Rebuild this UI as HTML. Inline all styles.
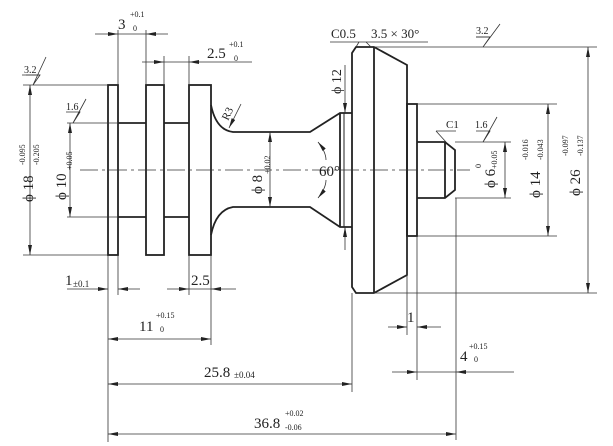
<!DOCTYPE html>
<html><head><style>
html,body{margin:0;padding:0;background:#fff;}
svg{display:block;font-family:"Liberation Serif",serif;}
</style></head><body>
<svg width="613" height="446" viewBox="0 0 613 446" xmlns="http://www.w3.org/2000/svg">
<defs>
<marker id="a" viewBox="0 0 10 4" refX="10" refY="2" markerWidth="10" markerHeight="4" orient="auto-start-reverse" markerUnits="userSpaceOnUse"><path d="M0,0 L10,2 L0,4z" fill="#222"/></marker>
</defs>
<g stroke="#222" fill="none" stroke-width="1.8">
<rect x="108" y="85" width="10" height="170"/>
<rect x="146" y="85" width="18" height="170"/>
<rect x="189" y="85" width="22" height="170"/>
<line x1="118" y1="123" x2="146" y2="123"/><line x1="118" y1="217" x2="146" y2="217"/>
<line x1="164" y1="123" x2="189" y2="123"/><line x1="164" y1="217" x2="189" y2="217"/>
<path d="M211,105 Q216,130 233,132 L310,132 L340,113 L352,113"/>
<path d="M211,235 Q216,210 233,207 L310,207 L340,227 L352,227"/>
<line x1="340" y1="113" x2="340" y2="227"/>
<line x1="344" y1="113" x2="344" y2="227" stroke-width="1"/>
<path d="M352,53 L356,47 L374,47 L407,65 L407,275 L374,293 L356,293 L352,287 Z"/>
<line x1="374" y1="47" x2="374" y2="293"/>
<rect x="407" y="104" width="10" height="132"/>
<path d="M417,142 L445,142 L455,150 L455,190 L445,198 L417,198"/>
<line x1="445" y1="142" x2="445" y2="198"/>
</g>
<line x1="80" y1="170" x2="470" y2="170" stroke="#333" stroke-width="0.8" stroke-dasharray="18,4,3,4"/>
<g stroke="#333" stroke-width="0.8" fill="none">
<line x1="23" y1="85" x2="108" y2="85"/><line x1="23" y1="255" x2="108" y2="255"/>
<line x1="67" y1="123" x2="118" y2="123"/><line x1="67" y1="217" x2="118" y2="217"/>
<line x1="118" y1="30" x2="118" y2="85"/><line x1="146" y1="30" x2="146" y2="85"/>
<line x1="164" y1="56" x2="164" y2="85"/><line x1="189" y1="56" x2="189" y2="85"/>
<line x1="108" y1="255" x2="108" y2="442"/><line x1="118" y1="255" x2="118" y2="295"/>
<line x1="189" y1="255" x2="189" y2="295"/><line x1="211" y1="255" x2="211" y2="345"/>
<line x1="352" y1="293" x2="352" y2="392"/>
<line x1="407" y1="236" x2="407" y2="335"/><line x1="417" y1="236" x2="417" y2="380"/>
<line x1="456" y1="198" x2="456" y2="440"/>
<line x1="374" y1="47" x2="597" y2="47"/><line x1="374" y1="293" x2="597" y2="293"/>
<line x1="417" y1="104" x2="557" y2="104"/><line x1="417" y1="236" x2="557" y2="236"/>
<line x1="455" y1="142" x2="511" y2="142"/><line x1="455" y1="198" x2="511" y2="198"/>
<line x1="30" y1="85" x2="30" y2="255" marker-start="url(#a)" marker-end="url(#a)"/>
<line x1="70" y1="123" x2="70" y2="217" marker-start="url(#a)" marker-end="url(#a)"/>
<line x1="270" y1="132" x2="270" y2="207" marker-start="url(#a)" marker-end="url(#a)"/>
<line x1="505" y1="142" x2="505" y2="198" marker-start="url(#a)" marker-end="url(#a)"/>
<line x1="548" y1="104" x2="548" y2="236" marker-start="url(#a)" marker-end="url(#a)"/>
<line x1="588" y1="47" x2="588" y2="293" marker-start="url(#a)" marker-end="url(#a)"/>
<line x1="95" y1="34" x2="118" y2="34" marker-end="url(#a)"/><line x1="168" y1="34" x2="146" y2="34" marker-end="url(#a)"/><line x1="118" y1="34" x2="146" y2="34"/>
<line x1="142" y1="62" x2="164" y2="62" marker-end="url(#a)"/><line x1="252" y1="62" x2="189" y2="62" marker-end="url(#a)"/><line x1="164" y1="62" x2="189" y2="62"/>
<line x1="67" y1="289" x2="108" y2="289" marker-end="url(#a)"/><line x1="140" y1="289" x2="118" y2="289" marker-end="url(#a)"/>
<line x1="167" y1="289" x2="189" y2="289" marker-end="url(#a)"/><line x1="236" y1="289" x2="211" y2="289" marker-end="url(#a)"/><line x1="189" y1="289" x2="211" y2="289"/>
<line x1="108" y1="339" x2="211" y2="339" marker-start="url(#a)" marker-end="url(#a)"/>
<line x1="108" y1="384" x2="352" y2="384" marker-start="url(#a)" marker-end="url(#a)"/>
<line x1="108" y1="434" x2="456" y2="434" marker-start="url(#a)" marker-end="url(#a)"/>
<line x1="388" y1="327" x2="407" y2="327" marker-end="url(#a)"/><line x1="441" y1="327" x2="417" y2="327" marker-end="url(#a)"/>
<line x1="392" y1="372" x2="417" y2="372" marker-end="url(#a)"/><line x1="514" y1="372" x2="456" y2="372" marker-end="url(#a)"/><line x1="417" y1="372" x2="456" y2="372"/>
<line x1="345" y1="65" x2="345" y2="113" marker-end="url(#a)"/><line x1="345" y1="250" x2="345" y2="227" marker-end="url(#a)"/>
<path d="M318,142 Q326,152 326,160" marker-start="url(#a)"/>
<path d="M318,198 Q326,188 326,180" marker-start="url(#a)"/>
<line x1="241" y1="104" x2="229" y2="128" marker-end="url(#a)"/>
<line x1="330" y1="42" x2="428" y2="42"/>
<line x1="359" y1="42" x2="356" y2="47"/><line x1="366" y1="42" x2="371" y2="47"/>
<line x1="436" y1="131" x2="456" y2="131"/><line x1="436" y1="131" x2="446" y2="142"/>
</g>
<g stroke="#333" stroke-width="0.8" fill="none">
<path d="M26,75 L40,75 L33,85 L46,57"/><line x1="22" y1="75" x2="40" y2="75"/>
<path d="M66,112 L80,112 L73,123 L86,99"/>
<path d="M476,37 L490,37 L483,47 L500,24"/><line x1="476" y1="37" x2="490" y2="37"/>
<path d="M476,131 L490,131 L483,142 L497,117"/>
</g>
<g fill="#222" font-size="15">
<text x="118" y="29">3</text><text x="130" y="17" font-size="8">+0.1</text><text x="133" y="31" font-size="8">0</text>
<text x="207" y="58">2.5</text><text x="229" y="47" font-size="8">+0.1</text><text x="234" y="61" font-size="8">0</text>
<text x="24" y="73" font-size="10">3.2</text>
<text x="66" y="110" font-size="10">1.6</text>
<text x="228" y="121" font-size="11" transform="rotate(-65 228 121)">R3</text>
<g transform="translate(33,170) rotate(-90)"><text x="-32" y="0" font-size="15">ϕ 18</text><text x="5" y="-8" font-size="8">-0.095</text><text x="5" y="6" font-size="8">-0.205</text></g>
<g transform="translate(72,170) rotate(-90)"><text x="-30" y="-6" font-size="15">ϕ 10</text><text x="0" y="0" font-size="8">+0.05</text></g>
<g transform="translate(268,170) rotate(-90)"><text x="-24" y="-6" font-size="15">ϕ 8</text><text x="-4" y="2" font-size="8">+0.02</text></g>
<g transform="translate(341,94) rotate(-90)"><text x="0" y="0" font-size="14">ϕ 12</text></g>
<text x="319" y="176">60°</text>
<text x="331" y="38" font-size="13">C0.5</text>
<text x="371" y="38" font-size="13">3.5 × 30°</text>
<text x="476" y="34" font-size="10">3.2</text>
<text x="446" y="128" font-size="11">C1</text>
<text x="475" y="128" font-size="10">1.6</text>
<g transform="translate(495,172) rotate(-90)"><text x="-16" y="0" font-size="15">ϕ 6</text><text x="4" y="-14" font-size="8">0</text><text x="3" y="2" font-size="8">+0.05</text></g>
<g transform="translate(540,172) rotate(-90)"><text x="-26" y="0" font-size="15">ϕ 14</text><text x="12" y="-12" font-size="8">-0.016</text><text x="12" y="3" font-size="8">-0.043</text></g>
<g transform="translate(580,168) rotate(-90)"><text x="-28" y="0" font-size="15">ϕ 26</text><text x="12" y="-12" font-size="8">-0.097</text><text x="12" y="3" font-size="8">-0.137</text></g>
<text x="65" y="285">1</text><text x="73" y="287" font-size="9">±0.1</text>
<text x="191" y="285">2.5</text>
<text x="139" y="331">11</text><text x="156" y="318" font-size="8">+0.15</text><text x="160" y="332" font-size="8">0</text>
<text x="204" y="377">25.8</text><text x="234" y="378" font-size="9">±0.04</text>
<text x="254" y="428">36.8</text><text x="285" y="416" font-size="8">+0.02</text><text x="285" y="430" font-size="8">-0.06</text>
<text x="407" y="322">1</text>
<text x="460" y="361">4</text><text x="469" y="349" font-size="8">+0.15</text><text x="474" y="362" font-size="8">0</text>
</g>
</svg>
</body></html>
